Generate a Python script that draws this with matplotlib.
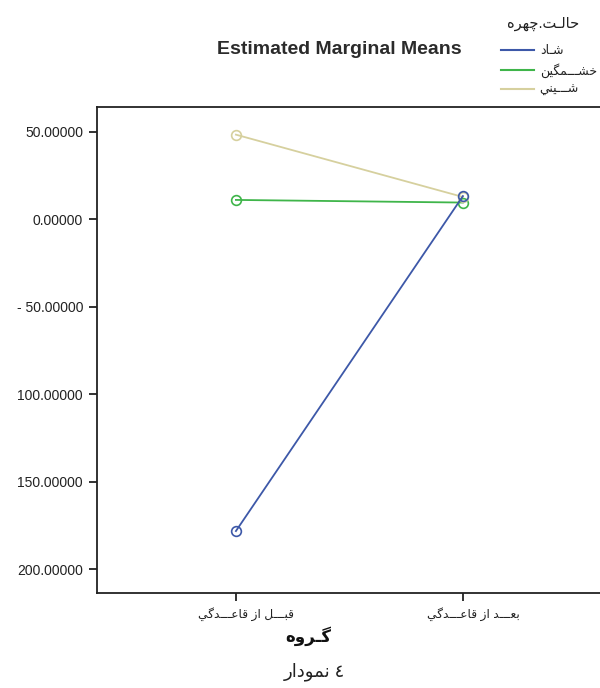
import matplotlib
matplotlib.use("Agg")
import matplotlib.pyplot as plt
from matplotlib.lines import Line2D

plt.rcParams['font.family'] = ['Liberation Sans', 'DejaVu Sans']

# formes de presentation arabes : (isole, final, initial, median)
FORMES = {
    'ا': ('\uFE8D', '\uFE8E', None, None),
    'ب': ('\uFE8F', '\uFE90', '\uFE91', '\uFE92'),
    'ت': ('\uFE95', '\uFE96', '\uFE97', '\uFE98'),
    'ح': ('\uFEA1', '\uFEA2', '\uFEA3', '\uFEA4'),
    'خ': ('\uFEA5', '\uFEA6', '\uFEA7', '\uFEA8'),
    'د': ('\uFEA9', '\uFEAA', None, None),
    'ر': ('\uFEAD', '\uFEAE', None, None),
    'ز': ('\uFEAF', '\uFEB0', None, None),
    'ش': ('\uFEB5', '\uFEB6', '\uFEB7', '\uFEB8'),
    'ع': ('\uFEC9', '\uFECA', '\uFECB', '\uFECC'),
    'ق': ('\uFED5', '\uFED6', '\uFED7', '\uFED8'),
    'ل': ('\uFEDD', '\uFEDE', '\uFEDF', '\uFEE0'),
    'م': ('\uFEE1', '\uFEE2', '\uFEE3', '\uFEE4'),
    'ن': ('\uFEE5', '\uFEE6', '\uFEE7', '\uFEE8'),
    'ه': ('\uFEE9', '\uFEEA', '\uFEEB', '\uFEEC'),
    'و': ('\uFEED', '\uFEEE', None, None),
    'ي': ('\uFEF1', '\uFEF2', '\uFEF3', '\uFEF4'),
    'چ': ('\uFB7A', '\uFB7B', '\uFB7C', '\uFB7D'),
    'گ': ('\uFB92', '\uFB93', '\uFB94', '\uFB95'),
    'ـ': ('ـ', 'ـ', 'ـ', 'ـ'),
}


# Fonction qui lie les lettres et remet le texte dans l'ordre visuel
def farsi(txt):
    res = []
    for i, c in enumerate(txt):
        if c not in FORMES:
            res.append(c)
            continue
        avant = txt[i - 1] if i > 0 else ''
        apres = txt[i + 1] if i + 1 < len(txt) else ''
        lie_avant = avant in FORMES and FORMES[avant][2] is not None
        lie_apres = FORMES[c][2] is not None and apres in FORMES
        iso, fin, ini, med = FORMES[c]
        if lie_avant and lie_apres:
            res.append(med)
        elif lie_avant:
            res.append(fin)
        elif lie_apres:
            res.append(ini)
        else:
            res.append(iso)
    return ''.join(res)[::-1]


groupes = ['قبـــل از قاعـــدگي', 'بعـــد از قاعـــدگي']
etats = ['شـاد', 'خشـــمگين', 'شـــيني']
couleurs = ['#3d58a8', '#3fb54a', '#d6d09e']
shad = [-178.3, 13.1]
khashmgin = [10.9, 9.4]
shini = [48.2, 12.6]
series = [shad, khashmgin, shini]

yticks = [50, 0, -50, -100, -150, -200]
ytick_labels = ['50.00000', '0.00000', '- 50.00000', '100.00000', '150.00000', '200.00000']

fig = plt.figure(figsize=(6, 6.88), dpi=100)
ax = fig.add_axes([97 / 600, 1 - 593 / 688, 503 / 600, (593 - 107) / 688])

x = list(range(len(groupes)))
ordre = [5, 3, 4]
for vals, coul, z in zip(series, couleurs, ordre):
    ax.plot(x, vals, color=coul, lw=1.3, marker='o', markersize=7, zorder=z,
            markerfacecolor='none', markeredgecolor=coul, markeredgewidth=1.2)

ax.set_xlim(-0.612, 1.604)
ax.set_ylim(-213.7, 64.0)
ax.set_xticks(x)
ax.set_xticklabels([])
# etiquettes des groupes un peu decalees vers la droite, comme dans SPSS
for xi, g in zip(x, groupes):
    ax.annotate(farsi(g), xy=(xi, 0), xycoords=('data', 'axes fraction'),
                xytext=(7.5, -15), textcoords='offset points', ha='center', va='center',
                fontsize=8.8, color='#222222')
ax.set_yticks(yticks)
ax.set_yticklabels(ytick_labels, fontsize=10, color='#222222')
ax.tick_params(axis='both', direction='out', length=6, width=1.3, color='#222222', pad=4)
ax.spines['right'].set_visible(False)
for s in ['left', 'top', 'bottom']:
    ax.spines[s].set_linewidth(1.3)
    ax.spines[s].set_color('#222222')

fig.text(339 / 600, 1 - 49 / 688, 'Estimated Marginal Means', ha='center', va='center',
         fontsize=14, fontweight='bold', color='#2b2b2b')
fig.text(308 / 600, 1 - 636 / 688, farsi('گـروه'), ha='center', va='center',
         fontsize=12, fontweight='bold', color='#111111')
fig.text(314 / 600, 1 - 672 / 688, farsi('نمودار') + ' ٤', ha='center', va='center',
         fontsize=13, color='#222222')

# legende : titre a part, traits seuls
fig.text(543 / 600, 1 - 24 / 688, farsi('حالـت.چهره'), ha='center', va='center',
         fontsize=10.5, color='#222222')
poignees = [Line2D([], [], color=c, lw=1.5) for c in couleurs]
fig.legend(poignees, [farsi(e) for e in etats], loc='upper left',
           bbox_to_anchor=(501 / 600, 1 - 45 / 688), borderpad=0, borderaxespad=0,
           frameon=False, fontsize=9, handlelength=2.65, handletextpad=0.45,
           labelspacing=0.5, labelcolor='#222222')

fig.savefig('out.png', dpi=100)
